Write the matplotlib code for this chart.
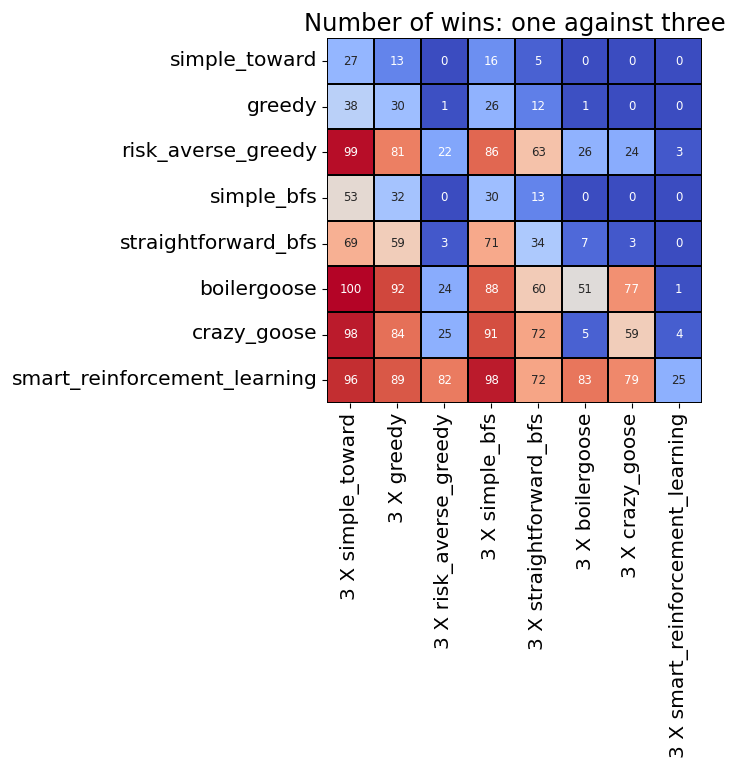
import numpy as np
import matplotlib
matplotlib.use("Agg")
import matplotlib.pyplot as plt
import seaborn as sns

agents = ["simple_toward", "greedy", "risk_averse_greedy", "simple_bfs",
          "straightforward_bfs", "boilergoose", "crazy_goose",
          "smart_reinforcement_learning"]
opponents = ["3 X " + a for a in agents]

# wins of each agent (rows) against three copies of an opponent (columns)
wins = np.array([
    [27, 13, 0, 16, 5, 0, 0, 0],
    [38, 30, 1, 26, 12, 1, 0, 0],
    [99, 81, 22, 86, 63, 26, 24, 3],
    [53, 32, 0, 30, 13, 0, 0, 0],
    [69, 59, 3, 71, 34, 7, 3, 0],
    [100, 92, 24, 88, 60, 51, 77, 1],
    [98, 84, 25, 91, 72, 5, 59, 4],
    [96, 89, 82, 98, 72, 83, 79, 25],
])

fig = plt.figure(figsize=(7.3, 7.65), dpi=100)
ax = fig.add_axes([0.448, 0.473, 0.514, 0.477])

sns.heatmap(wins, ax=ax, cmap="coolwarm", annot=True, fmt="d",
            annot_kws={"fontsize": 8.5}, linewidths=1.3, linecolor="black",
            cbar=False, xticklabels=opponents, yticklabels=agents)

ax.set_title("Number of wins: one against three", fontsize=17.5, pad=5)
ax.tick_params(axis="both", labelsize=14.6)
plt.setp(ax.get_xticklabels(), rotation=90)
plt.setp(ax.get_yticklabels(), rotation=0)

fig.savefig("out.png", dpi=100)
